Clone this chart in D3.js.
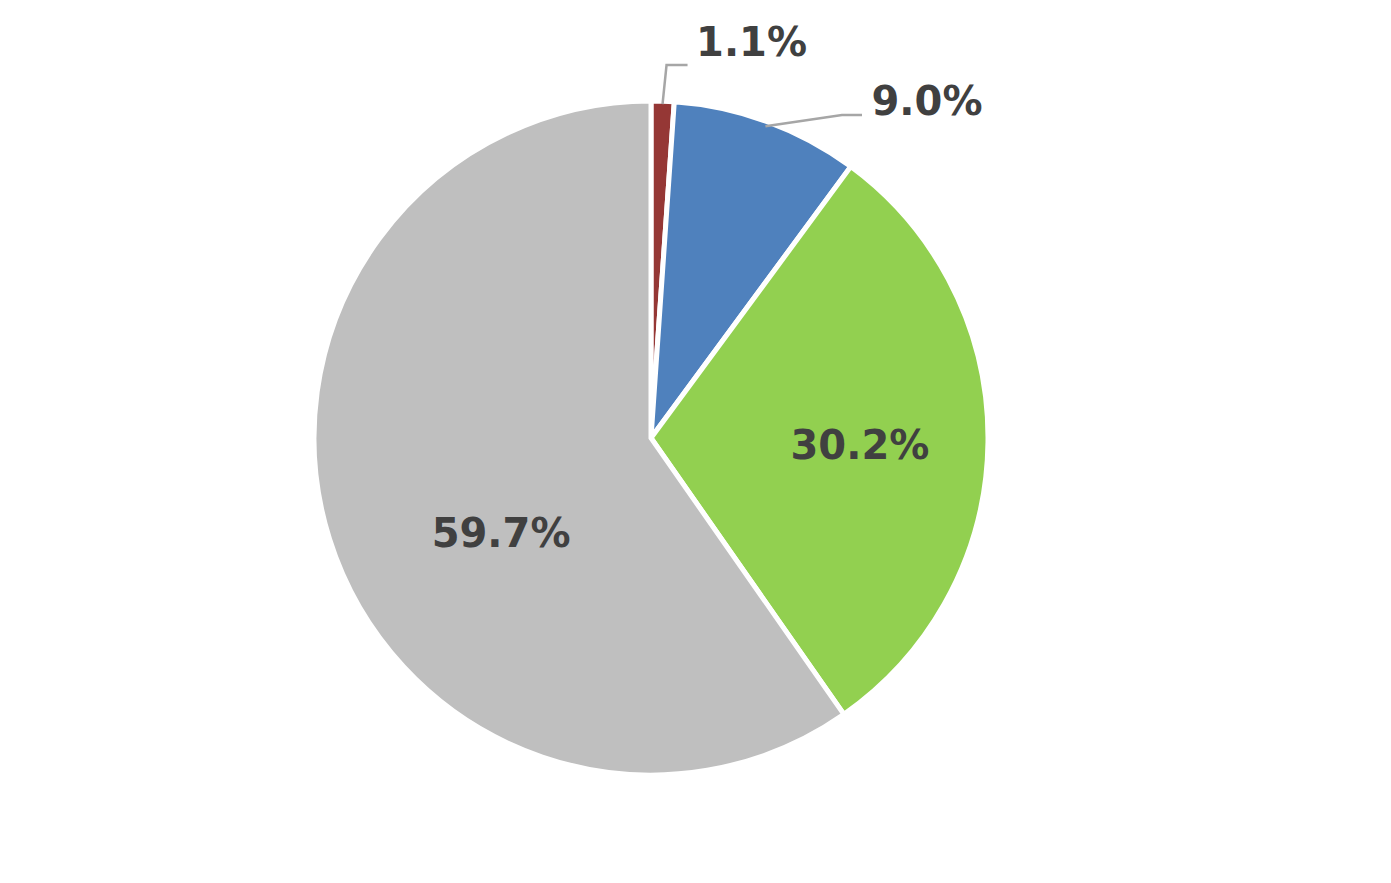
<!DOCTYPE html>
<html><head><meta charset="utf-8">
<script src="https://cdn.jsdelivr.net/npm/d3@7"></script>
<style>body{margin:0;background:#fff;}svg{display:block;}</style>
</head><body>
<svg id="chart" width="1391" height="883"></svg>
<script>
const categories = ["A", "B", "C", "D"];
const values = [1.1, 9.0, 30.2, 59.7];
const labels = ["1.1%", "9.0%", "30.2%", "59.7%"];
const colors = ["#953735", "#4F81BD", "#92D050", "#BFBFBF"];

const svg = d3.select("#chart");
const cx = 651, cy = 438, R = 337;
const g = svg.append("g").attr("transform", `translate(${cx},${cy})`);

const pie = d3.pie().sort(null).value(d => d.v).startAngle(0).endAngle(2 * Math.PI);
const data = pie(values.map((v, i) => ({ v, i })));
const arc = d3.arc().innerRadius(0).outerRadius(R);

g.selectAll("path.slice").data(data).join("path")
  .attr("class", "slice")
  .attr("d", arc)
  .attr("fill", d => colors[d.data.i])
  .attr("stroke", "#fff")
  .attr("stroke-width", 5)
  .attr("stroke-linejoin", "miter");

const polar = (ang, r) => [r * Math.sin(ang), -r * Math.cos(ang)];

const font = "'DejaVu Sans', Verdana, sans-serif";
function addText(x, y, t) {
  g.append("text").attr("x", x).attr("y", y)
    .attr("text-anchor", "middle").attr("dominant-baseline", "central")
    .attr("font-family", font).attr("font-weight", "bold").attr("font-size", 40)
    .attr("fill", "#404040").text(t);
}

// inner labels
{
  const d = data[2];
  const a = (d.startAngle + d.endAngle) / 2;
  const [x, y] = polar(a, R * 0.62);
  addText(x, y + 4, labels[2]);
}
{
  const d = data[3];
  const a = (d.startAngle + d.endAngle) / 2 - 0.27;
  const [x, y] = polar(a, R * 0.53);
  addText(x, y - 2, labels[3]);
}

// outer labels with leader lines
const lineColor = "#A6A6A6";
{
  const d = data[0];
  const a = (d.startAngle + d.endAngle) / 2;
  const p0 = polar(a, R - 3);
  const p1 = [p0[0] + 4, -373];
  const p2 = [p1[0] + 21, -373];
  g.append("path").attr("d", d3.line()([p0, p1, p2]))
    .attr("fill", "none").attr("stroke", lineColor).attr("stroke-width", 2.5);
  addText(p2[0] + 64, -396, labels[0]);
}
{
  const d = data[1];
  const a = (d.startAngle + d.endAngle) / 2;
  const p0 = polar(a, R - 5);
  const p1 = [191, -323];
  const p2 = [211, -323];
  g.append("path").attr("d", d3.line()([p0, p1, p2]))
    .attr("fill", "none").attr("stroke", lineColor).attr("stroke-width", 2.5);
  addText(p2[0] + 65, -337, labels[1]);
}
</script>
</body></html>
